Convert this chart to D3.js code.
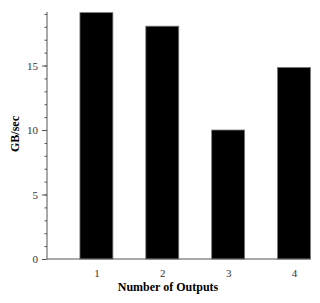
<!DOCTYPE html>
<html>
<head>
<meta charset="utf-8">
<script src="https://cdn.jsdelivr.net/npm/d3@7"></script>
<style>
  body { margin: 0; background: #fff; }
  svg { display: block; }
  text { font-family: "Liberation Serif", "Times New Roman", serif; }
</style>
</head>
<body>
<svg id="chart" width="320" height="303"></svg>
<script>
var outputs = [1, 2, 3, 4];
var gbPerSec = [19.1, 18.05, 10.0, 14.85];
var yTicks = [0, 5, 10, 15];

var svg = d3.select("#chart");
// note: "top" is taken by window.top, so use plotTop etc.
var plotLeft = 47, plotRight = 310.5, plotTop = 12, plotBottom = 259;

var x = d3.scaleLinear().domain([0.25, 4.25]).range([plotLeft, plotRight]);
var y = d3.scaleLinear().domain([0, 19.15]).range([plotBottom, plotTop]);

// bars
svg.selectAll(".bar")
    .data(outputs)
    .join("rect")
    .attr("class", "bar")
    .attr("x", d => x(d - 0.25))
    .attr("width", d => x(d + 0.25) - x(d - 0.25))
    .attr("y", (d, i) => y(gbPerSec[i]))
    .attr("height", (d, i) => y(0) - y(gbPerSec[i]))
    .attr("fill", "#000")
    .attr("stroke", "#777")
    .attr("stroke-width", 0.8);

// y axis with minor ticks
var yAxisG = svg.append("g").attr("transform", `translate(${plotLeft},0)`);
yAxisG.call(d3.axisLeft(y).tickValues(d3.range(0, 20, 1)).tickSize(2.5).tickFormat(""));
yAxisG.append("g")
    .call(d3.axisLeft(y).tickValues(yTicks).tickSize(5).tickPadding(4).tickFormat(d3.format("d")));
yAxisG.selectAll(".domain").remove();
yAxisG.append("line")
    .attr("y1", y(0)).attr("y2", plotTop)
    .attr("stroke", "#555");
yAxisG.selectAll(".tick line").attr("stroke", "#555");
yAxisG.selectAll(".tick text")
    .attr("fill", "#333")
    .style("font-size", "11px")
    .style("font-family", "Liberation Serif");

// x axis: labels only, no ticks
var xAxisG = svg.append("g").attr("transform", `translate(0,${plotBottom})`);
xAxisG.call(d3.axisBottom(x).tickValues(outputs).tickSize(0).tickPadding(10).tickFormat(d3.format("d")));
xAxisG.select(".domain").remove();
xAxisG.append("line")
    .attr("x1", plotLeft).attr("x2", plotRight)
    .attr("stroke", "#555");
xAxisG.selectAll(".tick text")
    .attr("fill", "#333")
    .style("font-size", "11px")
    .style("font-family", "Liberation Serif");

// titles
svg.append("text")
    .attr("x", 168).attr("y", 291)
    .attr("text-anchor", "middle")
    .style("font-size", "12px")
    .style("font-weight", "bold")
    .text("Number of Outputs");

svg.append("text")
    .attr("transform", "translate(19,134) rotate(-90)")
    .attr("text-anchor", "middle")
    .style("font-size", "12px")
    .style("font-weight", "bold")
    .text("GB/sec");
</script>
</body>
</html>
